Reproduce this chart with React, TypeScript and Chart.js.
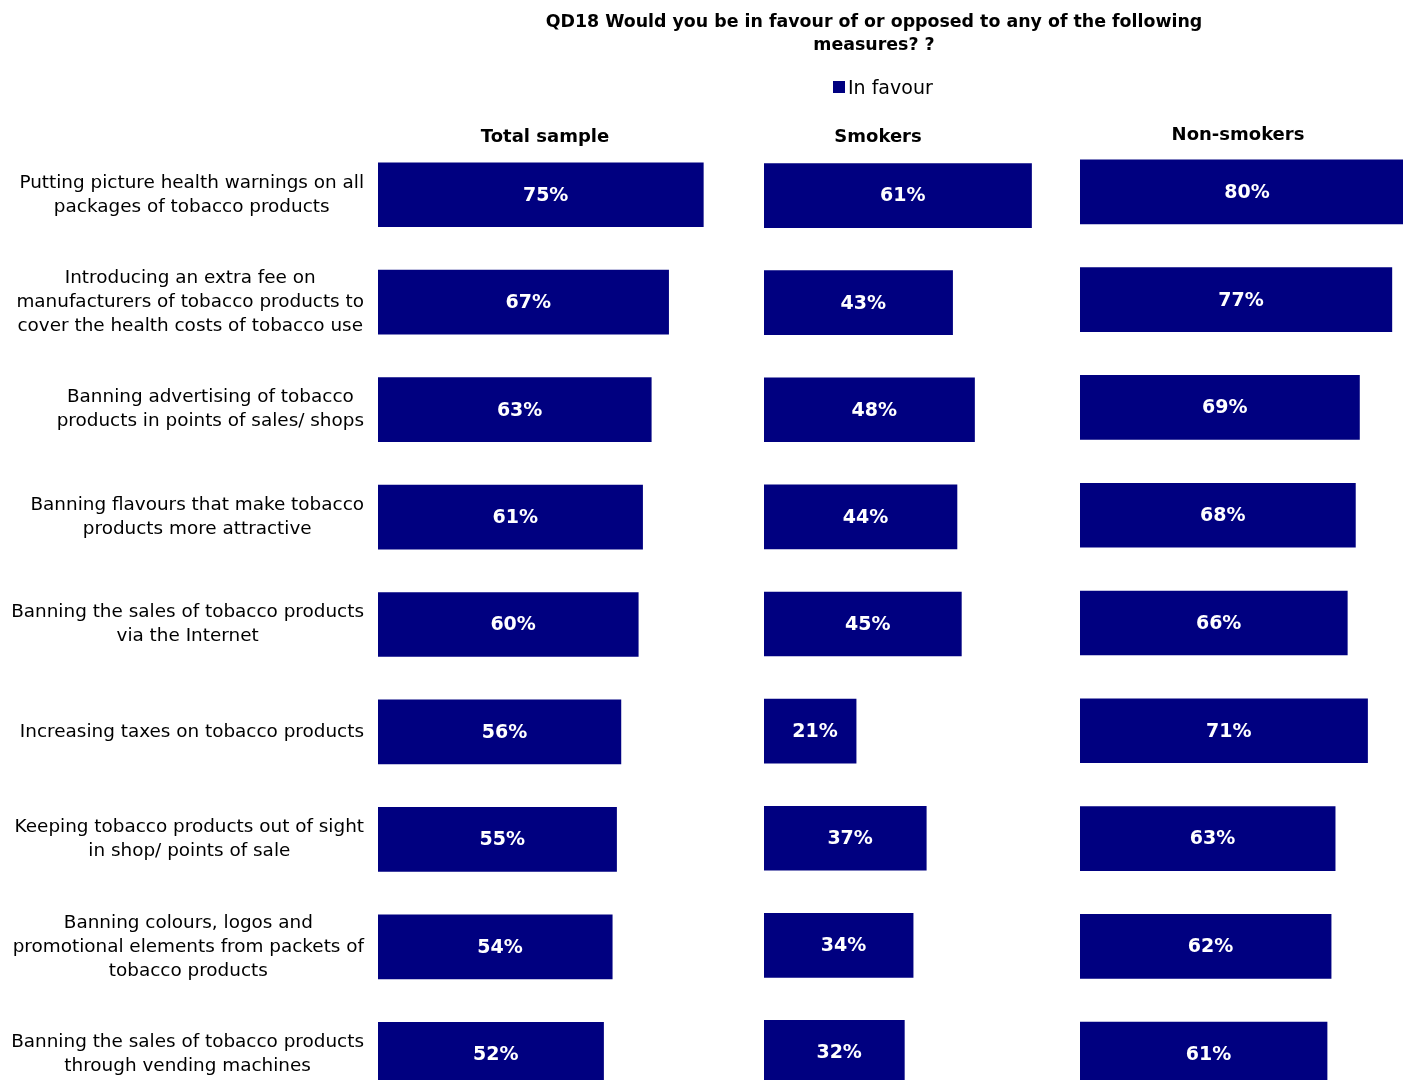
import React, { useEffect, useRef } from "react";
import { Chart, registerables } from "chart.js";

Chart.register(...registerables);

// ---------- data ----------
const CATEGORIES: string[][] = [
  ["Putting picture health warnings on all", "packages of tobacco products"],
  ["Introducing an extra fee on", "manufacturers of tobacco products to", "cover the health costs of tobacco use"],
  ["Banning advertising of tobacco", "products in points of sales/ shops"],
  ["Banning flavours that make tobacco", "products more attractive"],
  ["Banning the sales of tobacco products", "via the Internet"],
  ["Increasing taxes on tobacco products"],
  ["Keeping tobacco products out of sight", "in shop/ points of sale"],
  ["Banning colours, logos and", "promotional elements from packets of", "tobacco products"],
  ["Banning the sales of tobacco products", "through vending machines"],
];
const TOTAL_SAMPLE = [75, 67, 63, 61, 60, 56, 55, 54, 52];
const SMOKERS = [61, 43, 48, 44, 45, 21, 37, 34, 32];
const NON_SMOKERS = [80, 77, 69, 68, 66, 71, 63, 62, 61];
const PANEL_TITLES = ["Total sample", "Smokers", "Non-smokers"];
const TITLE_LINES = [
  "QD18 Would you be in favour of or opposed to any of the following",
  "measures? ?",
];
const LEGEND_LABEL = "In favour";

// ---------- styles ----------
const NAVY = "#000080";
const FAMILY = "'DejaVu Sans', Verdana, sans-serif";

type PanelCfg = {
  left: number;
  width: number;
  height: number;
  padLeft: number;
  padTop: number;
  padBottom: number;
  max: number;
  values: number[];
  withCategories: boolean;
};

const PANELS: PanelCfg[] = [
  { left: 0, width: 725, height: 1112, padLeft: 378, padTop: 141, padBottom: 4, max: 80, values: TOTAL_SAMPLE, withCategories: true },
  { left: 740, width: 331, height: 1112, padLeft: 24, padTop: 142, padBottom: 6, max: 70, values: SMOKERS, withCategories: false },
  { left: 1060, width: 344, height: 1112, padLeft: 20, padTop: 138, padBottom: 4, max: 80, values: NON_SMOKERS, withCategories: false },
];

const HEADER_POS = [
  { cx: 545, cy: 135 },
  { cx: 878, cy: 135 },
  { cx: 1238, cy: 133 },
];

function Panel({ cfg }: { cfg: PanelCfg }) {
  const ref = useRef<HTMLCanvasElement | null>(null);
  useEffect(() => {
    const canvas = ref.current;
    if (!canvas) return;
    const valueLabels = {
      id: "valueLabels",
      afterDatasetsDraw(chart: any) {
        const ctx = chart.ctx;
        const meta = chart.getDatasetMeta(0);
        ctx.save();
        ctx.fillStyle = "#ffffff";
        ctx.font = `bold 19px ${FAMILY}`;
        ctx.textAlign = "center";
        ctx.textBaseline = "middle";
        meta.data.forEach((el: any, i: number) => {
          const p = el.getProps(["x", "y", "base"], true);
          ctx.fillText(`${cfg.values[i]}%`, (p.x + p.base) / 2 + 5, p.y + 1);
        });
        ctx.restore();
      },
    };
    const categoryLabels = {
      id: "categoryLabels",
      afterDraw(chart: any) {
        if (!cfg.withCategories) return;
        const ctx = chart.ctx;
        const yScale = chart.scales.y;
        const rightEdge = chart.chartArea.left - 14;
        const lineH = 24;
        ctx.save();
        ctx.fillStyle = "#000000";
        ctx.font = `18.4px ${FAMILY}`;
        ctx.textAlign = "center";
        ctx.textBaseline = "middle";
        CATEGORIES.forEach((lines, i) => {
          const yc = yScale.getPixelForValue(i);
          const blockW = Math.max(...lines.map((l) => ctx.measureText(l).width));
          const cx = rightEdge - blockW / 2;
          lines.forEach((l, j) => {
            ctx.fillText(l, cx, yc + (j - (lines.length - 1) / 2) * lineH);
          });
        });
        ctx.restore();
      },
    };
    const chart = new Chart(canvas, {
      type: "bar",
      data: {
        labels: CATEGORIES.map((c) => c.join(" ")),
        datasets: [
          {
            label: LEGEND_LABEL,
            data: cfg.values,
            backgroundColor: NAVY,
            borderWidth: 0,
            barThickness: 64,
          },
        ],
      },
      options: {
        indexAxis: "y",
        responsive: false,
        animation: false,
        devicePixelRatio: 1,
        layout: {
          padding: { left: cfg.padLeft, top: cfg.padTop, bottom: cfg.padBottom, right: 0 },
        },
        scales: {
          x: { type: "linear", min: 0, max: cfg.max, display: false },
          y: { type: "category", display: false, offset: true },
        },
        plugins: {
          legend: { display: false },
          tooltip: { enabled: false },
          title: { display: false },
        },
      },
      plugins: [valueLabels, categoryLabels],
    });
    return () => chart.destroy();
  }, [cfg]);
  return (
    <canvas
      ref={ref}
      width={cfg.width}
      height={cfg.height}
      style={{ position: "absolute", left: cfg.left, top: 0, width: cfg.width, height: cfg.height }}
    />
  );
}

export default function App() {
  return (
    <div
      style={{
        position: "fixed",
        left: 0,
        top: 0,
        width: 1403,
        height: 1080,
        overflow: "hidden",
        background: "#ffffff",
        fontFamily: FAMILY,
        color: "#000",
      }}
    >
      {PANELS.map((p, i) => (
        <Panel key={i} cfg={p} />
      ))}
      <div
        style={{
          position: "absolute",
          left: 874,
          top: 10,
          transform: "translateX(-50%)",
          whiteSpace: "nowrap",
          textAlign: "center",
          fontWeight: "bold",
          fontSize: 17.4,
          lineHeight: "23px",
        }}
      >
        {TITLE_LINES.map((t, i) => (
          <div key={i}>{t}</div>
        ))}
      </div>
      <div
        style={{
          position: "absolute",
          left: 833,
          top: 75.5,
          height: 23,
          display: "flex",
          alignItems: "center",
          whiteSpace: "nowrap",
          fontSize: 19,
          lineHeight: "23px",
        }}
      >
        <span style={{ display: "inline-block", width: 12, height: 12, background: NAVY, marginRight: 3 }} />
        <span>{LEGEND_LABEL}</span>
      </div>
      {PANEL_TITLES.map((t, i) => (
        <div
          key={t}
          style={{
            position: "absolute",
            left: HEADER_POS[i].cx,
            top: HEADER_POS[i].cy - 11.5,
            transform: "translateX(-50%)",
            whiteSpace: "nowrap",
            fontWeight: "bold",
            fontSize: 18,
            lineHeight: "23px",
          }}
        >
          {t}
        </div>
      ))}
    </div>
  );
}
